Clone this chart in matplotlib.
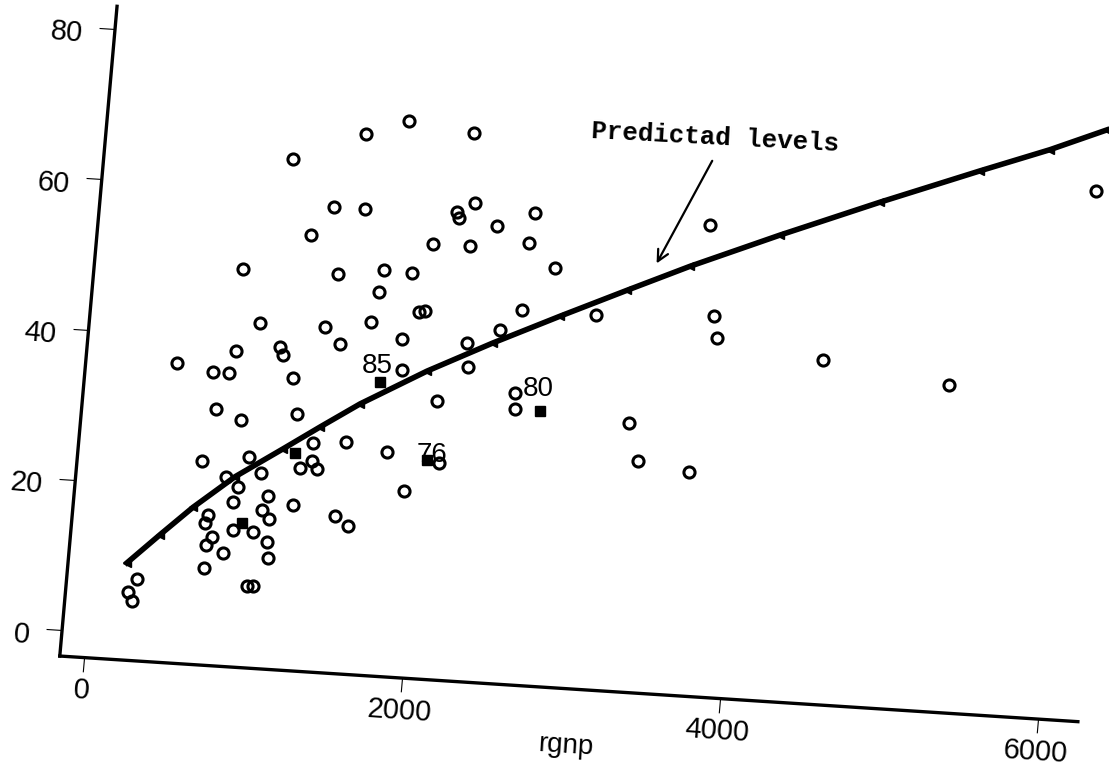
import numpy as np
import matplotlib
matplotlib.use("Agg")
import matplotlib.pyplot as plt
from matplotlib.transforms import Affine2D
import mpl_toolkits.axisartist.floating_axes as floating_axes
from mpl_toolkits.axisartist.grid_finder import FixedLocator, DictFormatter

# observed points (rgnp, level)
rgnp = [1737, 1475, 2150, 1033, 1316, 1510, 2195, 2087, 2103, 1187,
        1955, 2188, 780, 1377, 1663, 1839, 1644, 1904, 1942, 916,
        1325, 1610, 1813, 2222, 1054, 1078, 782, 419, 1428, 650,
        750, 1153, 1831, 2066, 2242, 689, 851, 1198, 1519, 1782,
        2113, 630, 922, 1006, 1247, 1317, 1354, 1314, 1910, 789,
        869, 846, 1062, 1223, 697, 683, 1032, 1081, 862, 988,
        734, 701, 812, 1081, 1096, 1492, 1578, 701, 980, 1018,
        288, 239, 269, 2345, 2576, 2555, 2731, 2548, 2421, 3013,
        3677, 3751, 3783, 4458, 2550, 2558, 3279, 3357, 3682, 5260,
        6072]
level = [70.3, 68.3, 69.3, 64.3, 58.3, 58.3, 60.1, 58.7, 57.9, 54.4,
         54.2, 54.3, 49.4, 49.5, 50.4, 50.3, 47.4, 45.2, 45.3, 42.4,
         42.3, 43.4, 41.4, 41.4, 39.4, 38.3, 38.4, 36.4, 40.2, 35.4,
         35.4, 35.3, 37.3, 33.6, 38.3, 30.6, 29.4, 30.6, 27.4, 26.3,
         25.3, 23.6, 24.5, 22.5, 23.5, 24.6, 23.5, 26.9, 21.3, 21.7,
         20.4, 18.4, 19.5, 18.5, 16.5, 15.4, 17.6, 16.5, 14.7, 14.6,
         13.6, 12.5, 11.6, 13.4, 11.4, 17.4, 16.3, 9.4, 7.4, 7.5,
         7.5, 5.6, 4.5, 57.2, 59.2, 55.2, 52.1, 46.3, 43.4, 46.2,
         59.1, 47.2, 44.2, 42.2, 35.2, 33.2, 32.2, 27.3, 26.3, 40.0,
         66.9]

# highlighted years (filled squares)
year_rgnp = [1700, 2716, 2037, 1207, 914]
year_level = [35.5, 33.1, 25.6, 25.5, 15.7]
year_lab = ["85", "80", "76", "", ""]

# predicted levels
pred_rgnp = [219, 410, 601, 847, 1132, 1351, 1589, 1989, 2387, 2791,
             3196, 3576, 4122, 4729, 5338, 5764, 6109]
pred_level = [9.5, 13.5, 17.4, 21.8, 25.9, 29.1, 32.5, 37.4, 41.7, 45.8,
              49.8, 53.5, 58.4, 63.6, 68.6, 72.0, 75.1]

xticks = [0, 2000, 4000, 6000]
yticks = [0, 20, 40, 60, 80]

W, H = 1109, 772
fig = plt.figure(figsize=(W / 100, H / 100), dpi=100)

# scanned page is a bit rotated/sheared -> map data to pixel coords
skew = Affine2D(np.array([[0.159, 0.6625, 85.9],
                          [-0.01025, 7.52, H - 632.0],
                          [0, 0, 1]]))
helper = floating_axes.GridHelperCurveLinear(
    skew, extremes=(-150, 6253, -3.4, 83),
    grid_locator1=FixedLocator(xticks),
    grid_locator2=FixedLocator(yticks),
    tick_formatter1=DictFormatter({v: str(v) for v in xticks}),
    tick_formatter2=DictFormatter({v: str(v) for v in yticks}))
ax = fig.add_axes([0, 0, 1, 1], axes_class=floating_axes.FloatingAxes,
                  grid_helper=helper)
ax.set_aspect("auto")
ax.set_xlim(0, W)
ax.set_ylim(0, H)

for side in ["top", "right"]:
    ax.axis[side].set_visible(False)
for side in ["left", "bottom"]:
    a = ax.axis[side]
    a.line.set_linewidth(2.4)
    a.major_ticks.set_tick_out(True)
    a.major_ticks.set_linewidth(1.8)
    a.major_ticklabels.set_fontsize(21)
    a.major_ticklabels.set_fontfamily("Liberation Sans")
ax.axis["left"].major_ticks.set_ticksize(11.5)
ax.axis["bottom"].major_ticks.set_ticksize(10)
ax.axis["left"].major_ticklabels.set_pad(12)
# y tick labels sit a bit low in the scan
ax.axis["left"].major_ticklabels.set_transform(Affine2D().translate(0, -8))
ax.axis["bottom"].major_ticklabels.set_pad(5)
ax.axis["bottom"].label.set_text("rgnp")
ax.axis["bottom"].label.set_fontsize(20)
ax.axis["bottom"].label.set_fontfamily("Liberation Sans")
ax.axis["bottom"].label.set_pad(2)

aux = ax.get_aux_axes(skew)
aux.plot(pred_rgnp, pred_level, color="black", lw=4, marker="<",
         ms=6, zorder=2)
aux.plot(rgnp, level, ls="none", marker="o", ms=8, mfc="none",
         mec="black", mew=2.2, zorder=3)
aux.plot(year_rgnp, year_level, ls="none", marker="s", ms=7,
         color="black", zorder=4)

lab_offset = {"85": (-2, 12), "80": (-1, 16), "76": (4, 4)}
for x, y, t in zip(year_rgnp, year_level, year_lab):
    if t:
        aux.annotate(t, (x, y), xytext=lab_offset[t],
                     textcoords="offset points", ha="center", va="center",
                     fontsize=20, family="Liberation Sans")

aux.annotate("Predictad levels", xy=(3366, 53.6), xytext=(3662, 70.8),
             ha="center", va="center", rotation=-3, fontsize=18.5,
             family="Liberation Mono", weight="bold",
             arrowprops=dict(arrowstyle="->", color="black", lw=1.6,
                             relpos=(0.5, 0.0), shrinkA=2, shrinkB=0,
                             mutation_scale=20))

fig.savefig("out.png", dpi=100)
